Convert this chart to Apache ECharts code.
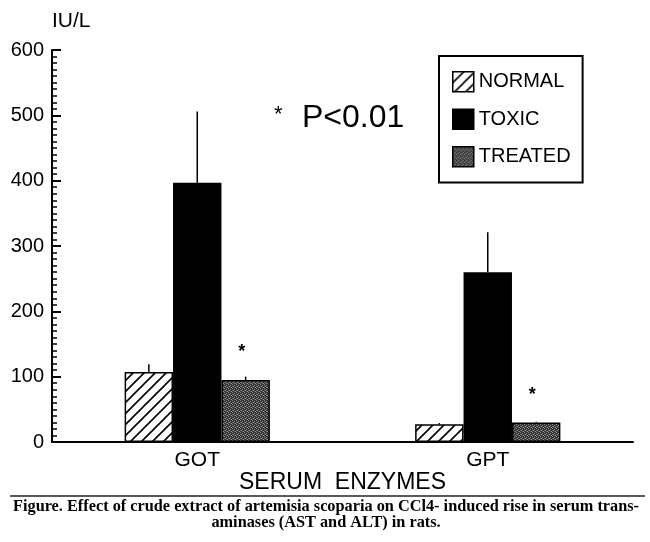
<!DOCTYPE html>
<html>
<head>
<meta charset="utf-8">
<script src="https://cdn.jsdelivr.net/npm/echarts@6/dist/echarts.min.js"></script>
<style>
  html, body { margin: 0; padding: 0; background: #fff; }
  #chart-container { width: 650px; height: 542px; }
</style>
</head>
<body>
<div id="chart-container"></div>
<script>
// data
var categories = ['GOT', 'GPT'];
var groupNames = ['NORMAL', 'TOXIC', 'TREATED'];
var normalMean = [107, 27];
var toxicMean = [397, 260];
var treatedMean = [95, 30];
var normalUpper = [119, 29];
var toxicUpper = [506, 321];
var treatedUpper = [100, 31];
var starValue = [137, 72];   // asterisk above treated bars
var yTicks = [0, 100, 200, 300, 400, 500, 600];

// fill patterns
function hatchPattern() {
    var c = document.createElement('canvas');
    c.width = 11; c.height = 11;
    var ctx = c.getContext('2d');
    ctx.fillStyle = '#fff';
    ctx.fillRect(0, 0, 11, 11);
    ctx.strokeStyle = '#000';
    ctx.lineWidth = 1.6;
    ctx.beginPath();
    ctx.moveTo(-1, 12); ctx.lineTo(12, -1);
    ctx.moveTo(-6, 6); ctx.lineTo(6, -6);
    ctx.moveTo(5, 17); ctx.lineTo(17, 5);
    ctx.stroke();
    return c;
}
function stipplePattern() {
    var c = document.createElement('canvas');
    c.width = 4; c.height = 4;
    var ctx = c.getContext('2d');
    ctx.fillStyle = '#333';
    ctx.fillRect(0, 0, 4, 4);
    ctx.fillStyle = '#909090';
    ctx.fillRect(0, 0, 1, 1);
    ctx.fillRect(2, 1, 1, 1);
    ctx.fillRect(1, 2, 1, 1);
    ctx.fillRect(3, 3, 1, 1);
    ctx.fillStyle = '#606060';
    ctx.fillRect(2, 3, 1, 1);
    ctx.fillRect(0, 2, 1, 1);
    return c;
}

var fills = [
    { image: hatchPattern(), repeat: 'repeat' },
    '#000',
    { image: stipplePattern(), repeat: 'repeat' }
];
var means = [normalMean, toxicMean, treatedMean];
var uppers = [normalUpper, toxicUpper, treatedUpper];

var dom = document.getElementById('chart-container');
var myChart = echarts.init(dom, null, { renderer: 'canvas' });

var font = '"Liberation Sans", Arial, sans-serif';
var gapRatio = 0.5;

var barSeries = groupNames.map(function (name, i) {
    return {
        name: name,
        type: 'bar',
        data: means[i],
        barGap: '0%',
        barCategoryGap: '50%',
        itemStyle: { color: fills[i], borderColor: '#000', borderWidth: 1.5 },
        z: 2
    };
});

// error bars: vertical line from bar top up to upper value
var errData = [];
categories.forEach(function (c, ci) {
    groupNames.forEach(function (g, gi) {
        errData.push([ci, gi, means[gi][ci], uppers[gi][ci]]);
    });
});

var starData = starValue.map(function (v, ci) { return [ci, v]; });

var option = {
    animation: false,
    backgroundColor: '#fff',
    grid: { left: 52, right: 17, top: 50, bottom: 100 },
    legend: {
        orient: 'vertical',
        left: 439,
        top: 56,
        data: groupNames.map(function (n) { return { name: n, icon: 'rect' }; }),
        itemWidth: 21,
        itemHeight: 20,
        itemGap: 16,
        padding: [15, 12, 15, 13],
        borderColor: '#000',
        borderWidth: 2,
        textStyle: { fontFamily: font, fontSize: 20, color: '#000' },
        selectedMode: false,
        itemStyle: { borderColor: '#000', borderWidth: 1.5 }
    },
    xAxis: {
        type: 'category',
        data: categories,
        name: 'SERUM  ENZYMES',
        nameLocation: 'middle',
        nameMoveOverlap: false,
        nameGap: 29,
        nameTextStyle: { fontFamily: font, fontSize: 23, color: '#000' },
        axisLine: { lineStyle: { color: '#000', width: 2 } },
        axisTick: { show: false },
        axisLabel: { fontFamily: font, fontSize: 21, color: '#000', margin: 8 }
    },
    yAxis: {
        type: 'value',
        min: yTicks[0],
        max: yTicks[yTicks.length - 1],
        interval: 100,
        name: 'IU/L',
        nameLocation: 'end',
        nameGap: 18,
        nameTextStyle: { fontFamily: font, fontSize: 21, color: '#000', align: 'left' },
        splitLine: { show: false },
        axisLine: { show: true, lineStyle: { color: '#000', width: 2 } },
        axisTick: { show: true, inside: true, length: 9, lineStyle: { color: '#000', width: 2 } },
        minorTick: { show: true, splitNumber: 10, length: 5, lineStyle: { color: '#000', width: 1.5 } },
        axisLabel: { fontFamily: font, fontSize: 20, color: '#000', margin: 8 }
    },
    graphic: [
        { type: 'text', left: 274, top: 104, style: { text: '*', font: '22px ' + font, fill: '#000' } },
        { type: 'text', left: 302, top: 102, style: { text: 'P<0.01', font: '32px ' + font, fill: '#000' } },
        { type: 'line', shape: { x1: 10, y1: 496, x2: 645, y2: 496 }, style: { stroke: '#222', lineWidth: 1.5 } },
        {
            type: 'text', x: 326, y: 507,
            style: {
                text: 'Figure. Effect of crude extract of artemisia scoparia on CCl4- induced rise in serum trans-',
                font: 'bold 16.3px "Liberation Serif", "DejaVu Serif", serif',
                fill: '#000', align: 'center', verticalAlign: 'middle'
            }
        },
        {
            type: 'text', x: 326, y: 523,
            style: {
                text: 'aminases (AST and ALT) in rats.',
                font: 'bold 16.3px "Liberation Serif", "DejaVu Serif", serif',
                fill: '#000', align: 'center', verticalAlign: 'middle'
            }
        }
    ],
    series: barSeries.concat([
        {
            type: 'custom',
            name: 'err',
            data: errData,
            z: 3,
            renderItem: function (params, api) {
                var ci = api.value(0), gi = api.value(1);
                var catW = api.size([1, 0])[0];
                var bw = catW * (1 - gapRatio) / 3;
                var x = api.coord([ci, 0])[0] + (gi - 1) * bw;
                var y0 = api.coord([ci, api.value(2)])[1];
                var y1 = api.coord([ci, api.value(3)])[1];
                return {
                    type: 'line',
                    shape: { x1: x, y1: y0, x2: x, y2: y1 },
                    style: { stroke: '#000', lineWidth: 1.5 }
                };
            }
        },
        {
            type: 'custom',
            name: 'star',
            data: starData,
            z: 3,
            renderItem: function (params, api) {
                var catW = api.size([1, 0])[0];
                var bw = catW * (1 - gapRatio) / 3;
                var p = api.coord([api.value(0), api.value(1)]);
                return {
                    type: 'text',
                    x: p[0] + bw - 4, y: p[1],
                    style: { text: '*', font: 'bold 18px ' + font, fill: '#000', align: 'center', verticalAlign: 'middle' }
                };
            }
        }
    ])
};

myChart.setOption(option);
window.addEventListener('resize', myChart.resize);
</script>
</body>
</html>
